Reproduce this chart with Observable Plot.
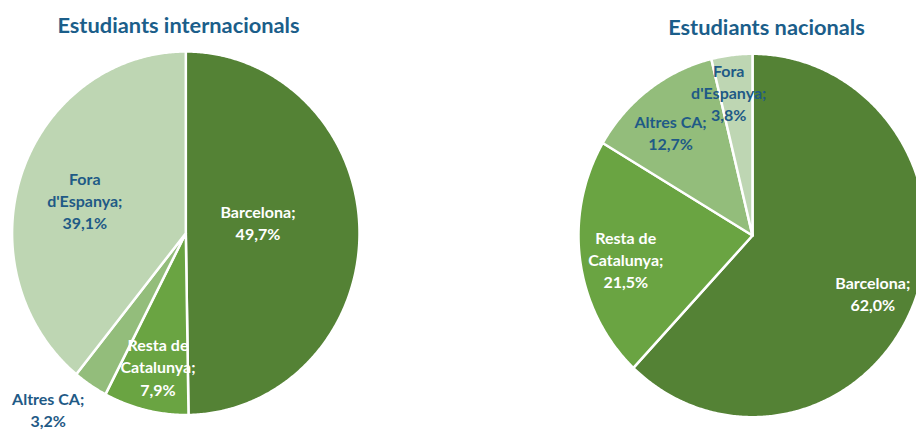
<!DOCTYPE html>
<html>
<head>
<meta charset="utf-8">
<script src="https://cdn.jsdelivr.net/npm/d3@7"></script>
<script src="https://cdn.jsdelivr.net/npm/@observablehq/plot@0.6"></script>
<style>
  html, body { margin: 0; padding: 0; background: #fff; }
  #chart svg { display: block; }
</style>
</head>
<body>
<div id="chart"></div>
<script>
// ---- Data ----
const categories = ["Barcelona", "Resta de Catalunya", "Altres CA", "Fora d'Espanya"];
const labelNames = ["Barcelona;", "Resta de\nCatalunya;", "Altres CA;", "Fora\nd'Espanya;"];
const internacionals = [49.7, 7.9, 3.2, 39.1];
const nacionals = [62.0, 21.5, 12.7, 3.8];
const titles = ["Estudiants internacionals", "Estudiants nacionals"];

// ---- Styles ----
const sliceColors = ["#548235", "#6AA442", "#93BD7B", "#BED6B3"];
const darkLabel = "#1F5A86";
const titleColor = "#1B5E8A";
const whiteLabelCats = ["Barcelona", "Resta de Catalunya"];
const font = "Lato, 'Open Sans', sans-serif";

// ---- Layout (pixels) ----
const W = 916, H = 430;
const pies = [
  {values: internacionals, title: titles[0], cx: 185.3, cy: 232.75, rx: 173.7, ry: 181.75, titleX: 178, titleY: 26,
   labelR: [0.42, 0.75, 1.25, 0.61], labelNudge: [-8, -1, 6, -2]},
  {values: nacionals, title: titles[1], cx: 752, cy: 235, rx: 174, ry: 181.7, titleX: 766, titleY: 28,
   labelR: [0.76, 0.74, 0.74, 0.80], labelNudge: [3, -2, -3, -3]}
];

const fmt = v => v.toFixed(1).replace(".", ",") + "%";

// Build slice polygons and labels from the data
const slicePts = [];
const labels = [];
const titleRows = [];
pies.forEach((p, pi) => {
  const total = d3.sum(p.values);
  let acc = 0;
  titleRows.push({x: p.titleX, y: p.titleY, text: p.title});
  p.values.forEach((v, i) => {
    const a0 = acc / total * 2 * Math.PI;
    acc += v;
    const a1 = acc / total * 2 * Math.PI;
    const key = pi + "-" + i;
    const pt = a => ({x: p.cx + p.rx * Math.sin(a), y: p.cy - p.ry * Math.cos(a)});
    slicePts.push({key, cat: categories[i], x: p.cx, y: p.cy});
    const n = Math.max(2, Math.ceil((a1 - a0) / (Math.PI / 360)));
    for (let k = 0; k <= n; k++) {
      const q = pt(a0 + (a1 - a0) * k / n);
      slicePts.push({key, cat: categories[i], ...q});
    }
    slicePts.push({key, cat: categories[i], x: p.cx, y: p.cy});
    const mid = (a0 + a1) / 2 + p.labelNudge[i] * Math.PI / 180;
    const r = p.labelR[i];
    labels.push({
      cat: categories[i],
      x: p.cx + p.rx * r * Math.sin(mid),
      y: p.cy - p.ry * r * Math.cos(mid),
      text: labelNames[i] + "\n" + fmt(v)
    });
  });
});

const chart = Plot.plot({
  width: W,
  height: H,
  margin: 0,
  x: {domain: [0, W], range: [0, W], axis: null},
  y: {domain: [0, H], range: [0, H], axis: null},
  color: {domain: categories, range: sliceColors},
  style: {fontFamily: font, background: "#fff"},
  marks: [
    Plot.line(slicePts, {
      x: "x", y: "y", z: "key", fill: "cat",
      stroke: "white", strokeWidth: 2.5, strokeLinejoin: "round", curve: "linear"
    }),
    Plot.text(labels.filter(d => whiteLabelCats.includes(d.cat)), {
      x: "x", y: "y", text: "text", fill: "white",
      fontSize: 16, fontWeight: "bold", fontFamily: font, lineHeight: 1.38,
      textAnchor: "middle", lineAnchor: "middle"
    }),
    Plot.text(labels.filter(d => !whiteLabelCats.includes(d.cat)), {
      x: "x", y: "y", text: "text", fill: darkLabel,
      fontSize: 16, fontWeight: "bold", fontFamily: font, lineHeight: 1.38,
      textAnchor: "middle", lineAnchor: "middle"
    }),
    Plot.text(titleRows, {
      x: "x", y: "y", text: "text", fill: titleColor,
      fontSize: 21.8, fontWeight: "bold", fontFamily: font,
      textAnchor: "middle", lineAnchor: "middle"
    })
  ]
});
document.getElementById("chart").append(chart);
</script>
</body>
</html>
